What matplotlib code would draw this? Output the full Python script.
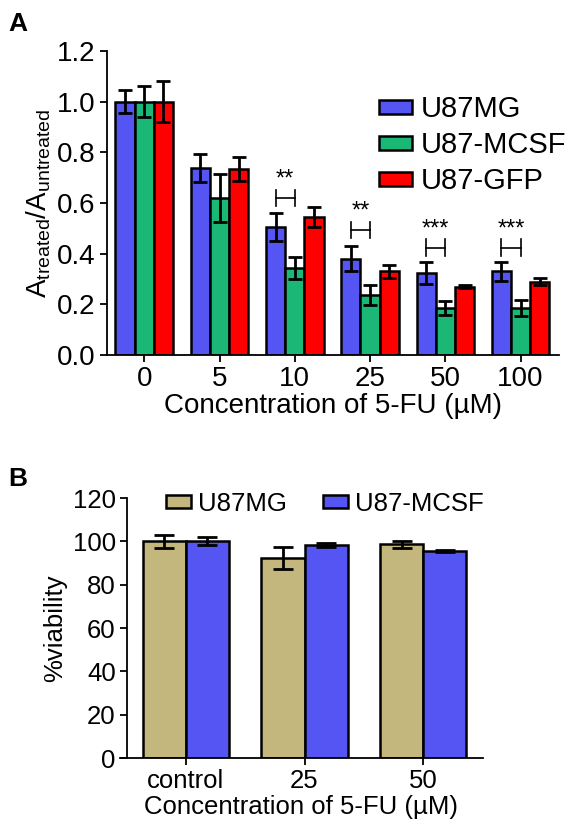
import numpy as np
import matplotlib
matplotlib.use('Agg')
import matplotlib.pyplot as plt

plt.rcParams['font.family'] = ['Liberation Sans', 'DejaVu Sans']
plt.rcParams['mathtext.fontset'] = 'custom'
plt.rcParams['mathtext.rm'] = 'Liberation Sans'
plt.rcParams['mathtext.it'] = 'Liberation Sans:italic'

# panel A data
conc_a = ['0', '5', '10', '25', '50', '100']
u87mg_a = [1.0, 0.738, 0.506, 0.38, 0.325, 0.33]
u87mg_a_err = [0.045, 0.054, 0.055, 0.05, 0.043, 0.038]
mcsf_a = [1.0, 0.62, 0.343, 0.237, 0.185, 0.185]
mcsf_a_err = [0.06, 0.095, 0.045, 0.04, 0.028, 0.032]
gfp_a = [1.0, 0.735, 0.546, 0.33, 0.27, 0.29]
gfp_a_err = [0.08, 0.047, 0.04, 0.025, 0.005, 0.013]
# significance marks (group index, bracket height, stars)
sig_groups = [2, 3, 4, 5]
sig_heights = [0.62, 0.493, 0.423, 0.423]
sig_stars = ['**', '**', '***', '***']

# panel B data
conc_b = ['control', '25', '50']
u87mg_b = [100, 92.2, 98.6]
u87mg_b_err = [3.0, 5.0, 1.7]
mcsf_b = [100, 98.3, 95.7]
mcsf_b_err = [1.8, 1.0, 0.4]

blue = '#5555F4'
green = '#1BB777'
red = '#FF0000'
tan = '#C4B77D'
fs_a = 20
fs_b = 18.5

fig = plt.figure(figsize=(5.69, 8.36), dpi=100)

# ---------- A ----------
ax = fig.add_axes([0.188, 0.5754, 0.7944, 0.3636])
x = np.arange(len(conc_a))
w = 0.255
ekw = dict(elinewidth=2, capthick=2)
series = [(u87mg_a, u87mg_a_err, blue, 'U87MG', -w),
          (mcsf_a, mcsf_a_err, green, 'U87-MCSF', 0),
          (gfp_a, gfp_a_err, red, 'U87-GFP', w)]
for vals, err, col, lab, off in series:
    ax.bar(x + off, vals, w, color=col, edgecolor='black', linewidth=1.8,
           label=lab, zorder=2)
    ax.errorbar(x + off, vals, yerr=err, fmt='none', ecolor='black',
                capsize=5, zorder=3, **ekw)

for g, h, s in zip(sig_groups, sig_heights, sig_stars):
    x0, x1 = g - w, g
    ax.plot([x0, x1], [h, h], color='black', lw=1.2)
    ax.plot([x0, x0], [h - 0.033, h + 0.033], color='black', lw=1.2)
    ax.plot([x1, x1], [h - 0.033, h + 0.033], color='black', lw=1.2)
    ax.text((x0 + x1) / 2, h + 0.03, s, ha='center', va='bottom', fontsize=17)

ax.set_xlim(-0.495, 5.51)
ax.set_ylim(0, 1.2)
ax.set_yticks(np.arange(0, 1.21, 0.2))
ax.set_yticklabels(['%.1f' % v for v in np.arange(0, 1.21, 0.2)])
ax.set_xticks(x)
ax.set_xticklabels(conc_a)
ax.spines['top'].set_visible(False)
ax.spines['right'].set_visible(False)
for sp in ['left', 'bottom']:
    ax.spines[sp].set_linewidth(1.3)
ax.tick_params(direction='out', length=5, width=1.3, labelsize=fs_a, pad=3)
ax.set_xlabel('Concentration of 5-FU (µM)', fontsize=fs_a, labelpad=1)
ax.set_ylabel(r'A$_{\mathrm{treated}}$/A$_{\mathrm{untreated}}$', fontsize=fs_a, labelpad=3)
ax.legend(loc='upper left', bbox_to_anchor=(0.666, 0.886), bbox_transform=fig.transFigure,
          frameon=False, fontsize=21, handlelength=1.15, handleheight=0.36,
          handletextpad=0.3, labelspacing=0.27, borderpad=0, borderaxespad=0)
fig.text(0.014, 0.986, 'A', fontsize=19, fontweight='bold', va='top', ha='left')

# ---------- B ----------
bx = fig.add_axes([0.2102, 0.0933, 0.6387, 0.311])
xb = np.arange(len(conc_b))
wb = 0.363
bx.bar(xb - wb / 2, u87mg_b, wb, color=tan, edgecolor='black', linewidth=1.8,
       label='U87MG', zorder=2)
bx.errorbar(xb - wb / 2, u87mg_b, yerr=u87mg_b_err, fmt='none', ecolor='black',
            capsize=7, zorder=3, **ekw)
bx.bar(xb + wb / 2, mcsf_b, wb, color=blue, edgecolor='black', linewidth=1.8,
       label='U87-MCSF', zorder=2)
bx.errorbar(xb + wb / 2, mcsf_b, yerr=mcsf_b_err, fmt='none', ecolor='black',
            capsize=7, zorder=3, **ekw)
bx.set_xlim(-0.56, 2.506)
bx.set_ylim(0, 120)
bx.set_yticks(range(0, 121, 20))
bx.set_xticks(xb)
bx.set_xticklabels(conc_b)
bx.spines['top'].set_visible(False)
bx.spines['right'].set_visible(False)
bx.spines['left'].set_position(('data', -0.498))
for sp in ['left', 'bottom']:
    bx.spines[sp].set_linewidth(1.3)
bx.tick_params(direction='out', length=5, width=1.3, labelsize=fs_b, pad=3)
bx.set_xlabel('Concentration of 5-FU (µM)', fontsize=fs_b, labelpad=1)
bx.set_ylabel('%viability', fontsize=fs_b, labelpad=4)
bx.legend(loc='upper left', bbox_to_anchor=(0.292, 0.412), bbox_transform=fig.transFigure,
          ncol=2, frameon=False, fontsize=fs_b, handlelength=0.95, handleheight=0.45,
          handletextpad=0.3, columnspacing=1.4, borderpad=0, borderaxespad=0)
fig.text(0.014, 0.441, 'B', fontsize=19, fontweight='bold', va='top', ha='left')

fig.savefig('out.png', dpi=100)
